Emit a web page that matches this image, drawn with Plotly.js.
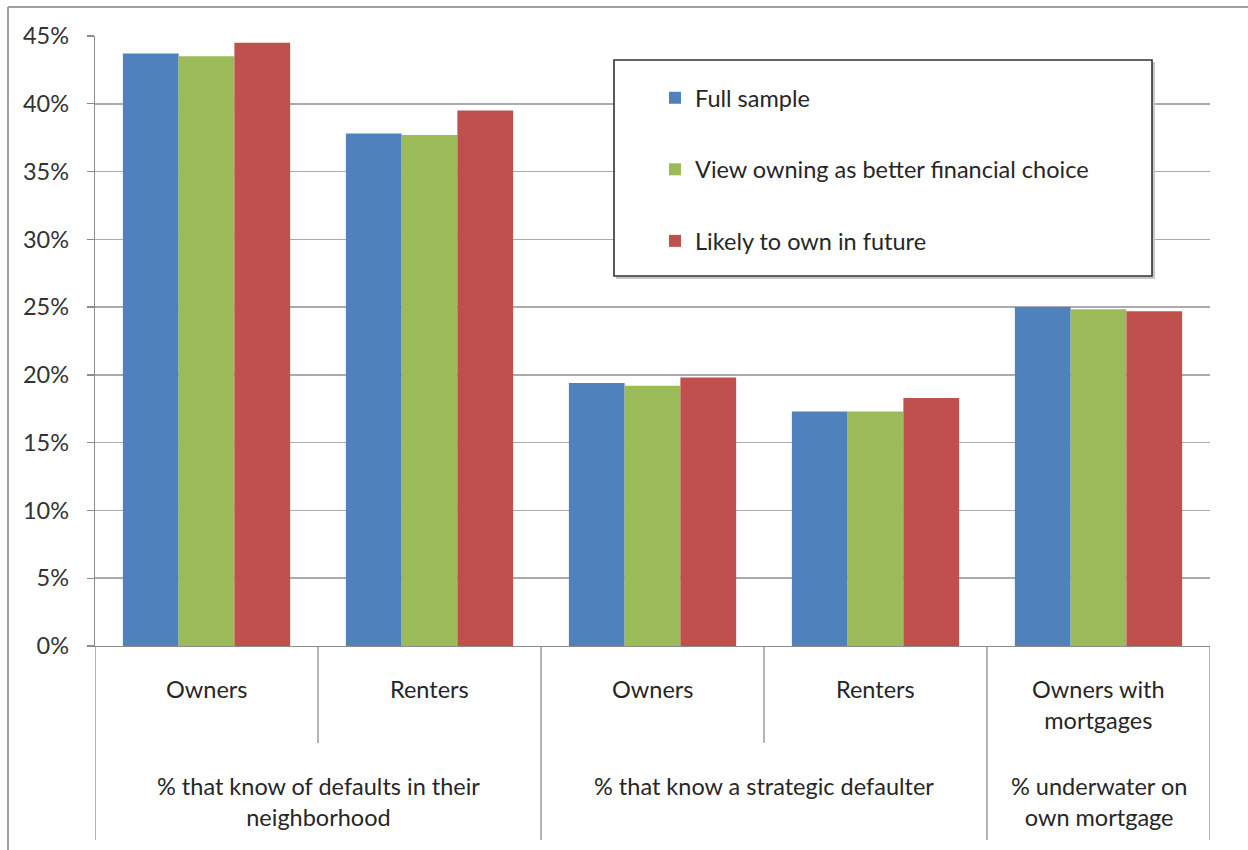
<!DOCTYPE html>
<html>
<head>
<meta charset="utf-8">
<script src="https://cdn.plot.ly/plotly-3.0.1.min.js"></script>
<style>
  html, body { margin: 0; padding: 0; background: #fff; }
  #chart { width: 1248px; height: 850px; }
</style>
</head>
<body>
<div id="chart"></div>
<script>
// Category labels (inner row) and grouping labels (outer row)
const subLabels = ['Owners', 'Renters', 'Owners', 'Renters', 'Owners with<br>mortgages'];
const groupLabels = [
  '% that know of defaults in their<br>neighborhood',
  '% that know a strategic defaulter',
  '% underwater on<br>own mortgage'
];
// Which inner categories belong to each outer group (first, last index)
const groupFirst = [0, 2, 4];
const groupLast = [1, 3, 4];

// Series
const seriesNames = ['Full sample', 'View owning as better financial choice', 'Likely to own in future'];
const fullSample = [43.7, 37.8, 19.4, 17.3, 25.0];
const viewOwning = [43.5, 37.7, 19.2, 17.3, 24.85];
const likelyOwn = [44.5, 39.5, 19.8, 18.3, 24.7];

const colors = ['#4F81BD', '#9BBB59', '#C0504D'];
const FONT = 'Lato, "Open Sans", sans-serif';
const FS = 23.5;
const textColor = '#262626';

// pixel geometry of the plot area
const W = 1248, H = 850;
const M = { l: 95, r: 38, t: 36, b: 204 };
const pw = W - M.l - M.r, ph = H - M.t - M.b;
const px = x => (x - M.l) / pw;           // page x -> paper x
const py = y => (H - M.b - y) / ph;       // page y -> paper y

const idx = subLabels.map((_, i) => i);
const seriesData = [fullSample, viewOwning, likelyOwn];

const traces = seriesData.map((vals, k) => ({
  type: 'bar',
  name: seriesNames[k],
  x: idx,
  y: vals,
  marker: { color: colors[k], line: { width: 0 } },
  legendgroup: 'g' + k,
  hoverinfo: 'y+name'
}));

const lineColor = '#8c8c8c';
const shapes = [];

// outer frame (left and top edges)
shapes.push({ type: 'line', xref: 'paper', yref: 'paper', x0: px(8), x1: px(8), y0: py(7), y1: py(860),
  line: { color: '#a0a0a0', width: 2 } });
shapes.push({ type: 'line', xref: 'paper', yref: 'paper', x0: px(8), x1: px(1260), y0: py(7), y1: py(7),
  line: { color: '#a0a0a0', width: 2 } });

// dividers between inner categories
for (let i = 0; i <= subLabels.length; i++) {
  const isOuter = i === 0 || i === subLabels.length || groupFirst.includes(i);
  shapes.push({ type: 'line', xref: 'x', yref: 'paper', x0: i - 0.5, x1: i - 0.5,
    y0: 0, y1: isOuter ? py(840) : py(743),
    line: { color: lineColor, width: 1.3 } });
}

// legend frame with a soft shadow
shapes.push({ type: 'rect', xref: 'paper', yref: 'paper', layer: 'above',
  x0: px(616), x1: px(1155), y0: py(62), y1: py(279),
  fillcolor: '#c8c8c8', line: { width: 0 } });
shapes.push({ type: 'rect', xref: 'paper', yref: 'paper', layer: 'above',
  x0: px(614), x1: px(1152), y0: py(60), y1: py(276),
  fillcolor: '#ffffff', line: { color: '#333333', width: 1.6 } });

const annotations = [];
subLabels.forEach((lab, i) => {
  annotations.push({ xref: 'x', yref: 'paper', x: i, y: py(673), yanchor: 'top', xanchor: 'center',
    text: lab, showarrow: false, font: { family: FONT, size: FS, color: textColor } });
});
groupLabels.forEach((lab, g) => {
  annotations.push({ xref: 'x', yref: 'paper', x: (groupFirst[g] + groupLast[g]) / 2, y: py(770),
    yanchor: 'top', xanchor: 'center',
    text: lab, showarrow: false, font: { family: FONT, size: FS, color: textColor } });
});

const layout = {
  width: W, height: H,
  margin: M,
  paper_bgcolor: '#ffffff',
  plot_bgcolor: '#ffffff',
  barmode: 'group',
  bargap: 0.25,
  bargroupgap: 0,
  font: { family: FONT, size: FS, color: textColor },
  xaxis: {
    range: [-0.5, subLabels.length - 0.5],
    showticklabels: false, showgrid: false, zeroline: false,
    showline: true, linecolor: lineColor, linewidth: 1.3, ticks: '', fixedrange: true
  },
  yaxis: {
    range: [0, 45], dtick: 5, ticksuffix: '%',
    showgrid: true, gridcolor: '#ababab', gridwidth: 1.6,
    zeroline: false, showline: true, linecolor: lineColor, linewidth: 1.3,
    ticks: 'outside', ticklen: 7, tickcolor: lineColor, tickwidth: 1.3,
    ticklabelstandoff: 13,
    tickfont: { family: FONT, size: FS, color: '#333333' }, fixedrange: true
  },
  showlegend: true,
  legend: {
    x: px(655), y: py(76), xanchor: 'left', yanchor: 'top',
    bgcolor: 'rgba(0,0,0,0)', borderwidth: 0,
    traceorder: 'grouped', tracegroupgap: 38,
    font: { family: FONT, size: FS, color: textColor }
  },
  shapes: shapes,
  annotations: annotations
};

Plotly.newPlot('chart', traces, layout, { displayModeBar: false, staticPlot: true });
</script>
</body>
</html>
